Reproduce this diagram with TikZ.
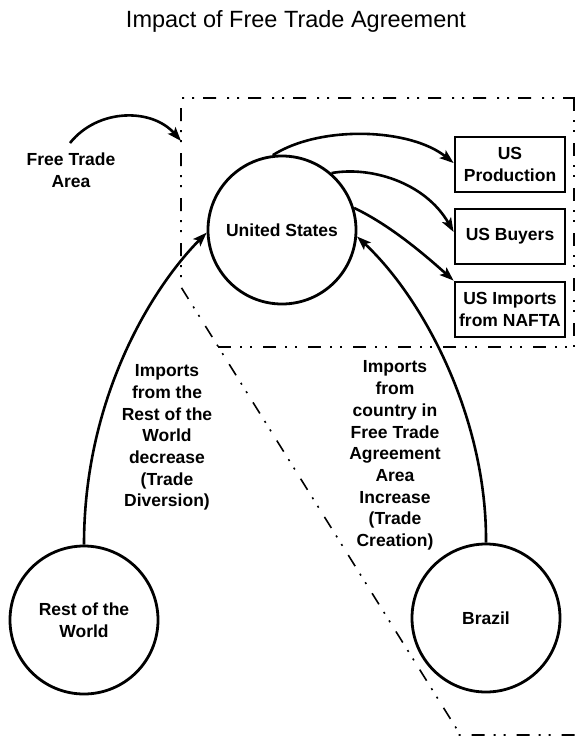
\documentclass[tikz,border=0pt]{standalone}
\usepackage{fontspec}
\setmainfont{Liberation Sans}
\usetikzlibrary{arrows.meta}
\begin{document}
\begin{tikzpicture}[x=1pt,y=-1pt,
  lbl/.style={font=\fontsize{17.5}{21.7}\selectfont\bfseries, align=center, inner sep=0pt},
  circ/.style={circle, draw, line width=2.8pt, minimum size=148pt, inner sep=0pt, lbl},
  boxn/.style={draw, line width=2.8pt, minimum width=110pt, minimum height=55pt, inner sep=0pt, lbl},
  arr/.style={line width=2.6pt, -{Stealth[length=14pt,width=10pt,inset=3pt]}},
  region/.style={line width=1.6pt, dash pattern=on 13pt off 9pt on 2pt off 8pt on 2pt off 11pt}]
\useasboundingbox (0,0) rectangle (575,739);
\node[font=\fontsize{23.5}{28}\selectfont] (title) at (296,21) {Impact of Free Trade Agreement};
% regions
\coordinate (r1) at (181,98);
\coordinate (r2) at (576,98);
\coordinate (r3) at (181,287);
\coordinate (r4) at (458,731);
\coordinate (r5) at (576,735);
\coordinate (r6) at (218,347);
\coordinate (r7) at (576,347);
\coordinate (r8) at (574,98);
\draw[region] (r2) -- (r1) -- (r3) -- (r4) -- (r4 |- r5) -- (r5);
\draw[region] (r6) -- (r7);
\draw[region] (r8) -- (r8 |- r7);
% nodes
\node[circ] (us) at (282,230) {United States};
\node[circ] (row) at (84,620) {Rest of the\\World};
\node[circ] (br) at (486,618) {Brazil};
\node[boxn] (prod) at (510,164.5) {US\\Production};
\node[boxn] (buy) at (510,236.5) {US Buyers};
\node[boxn] (imp) at (510,309.5) {US Imports\\from NAFTA};
\node[lbl] (fta) at (71,170) {Free Trade\\Area};
\node[lbl] (ldiv) at (167,437.5) {Imports\\from the\\Rest of the\\World\\decrease\\(Trade\\Diversion)};
\node[lbl] (lcre) at (395,455.5) {Imports\\from\\country in\\Free Trade\\Agreement\\Area\\Increase\\(Trade\\Creation)};
% arrows
\coordinate (ftaS) at (70,143);
\coordinate (ftaE) at (181,141);
\draw[arr] (ftaS) .. controls (98,108) and (152,108) .. (ftaE);
\draw[arr] (us.97) .. controls (320,125) and (410,128) .. (prod.west |- 0,163);
\draw[arr] (us.49) .. controls (370,166) and (425,182) .. (buy.west |- 0,232);
\draw[arr] (us.17) .. controls (390,225) and (425,255) .. (imp.north west);
\draw[arr] (row.north) .. controls (84,400) and (150,290) .. (us.182);
\draw[arr] (br.north) .. controls (487,420) and (425,300) .. (us.-5);
\end{tikzpicture}
\end{document}
